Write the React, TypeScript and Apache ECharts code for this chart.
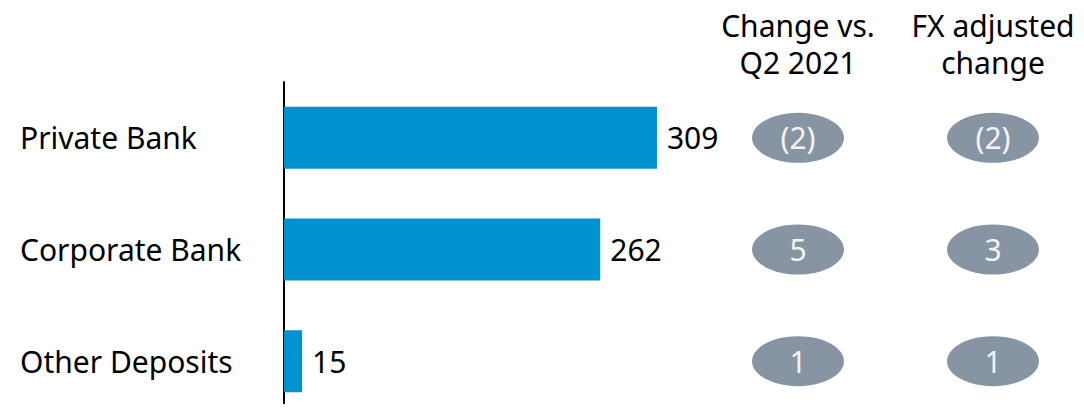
import React, { useEffect, useRef } from "react";
import * as echarts from "echarts";

const categories = ["Private Bank", "Corporate Bank", "Other Deposits"];
const deposits = [309, 262, 15];
const columnHeaders = ["Change vs.\nQ2 2021", "FX adjusted\nchange"];
const changeVsQ2 = ["(2)", "5", "1"];
const fxAdjustedChange = ["(2)", "3", "1"];

const FONT = "'Noto Sans', 'Liberation Sans', Arial, sans-serif";

export default function App() {
  const ref = useRef<HTMLDivElement>(null);
  useEffect(() => {
    if (!ref.current) return;
    const chart = echarts.init(ref.current, null, { renderer: "svg" });
    const bubbleData: any[] = [];
    categories.forEach((c, i) => {
      bubbleData.push({ value: [columnHeaders[0], c], label: { formatter: changeVsQ2[i] } });
      bubbleData.push({ value: [columnHeaders[1], c], label: { formatter: fxAdjustedChange[i] } });
    });
    chart.setOption({
      animation: false,
      textStyle: { fontFamily: FONT },
      grid: [
        { left: 284, top: 82, width: 603.5, height: 335, containLabel: false, outerBoundsMode: "none" },
        { left: 700.5, top: 82, width: 390, height: 335, containLabel: false, outerBoundsMode: "none" },
      ],
      xAxis: [
        { gridIndex: 0, type: "value", min: 0, max: 500, show: false },
        {
          gridIndex: 1,
          type: "category",
          position: "top",
          data: columnHeaders,
          axisLine: { show: false },
          axisTick: { show: false },
          splitLine: { show: false },
          axisLabel: {
            interval: 0,
            color: "#000",
            fontSize: 30,
            lineHeight: 37,
            margin: 1,
            fontFamily: FONT,
          },
        },
      ],
      yAxis: [
        {
          gridIndex: 0,
          type: "category",
          inverse: true,
          data: categories,
          axisLine: { show: true, lineStyle: { color: "#000", width: 2 } },
          axisTick: { show: false },
          splitLine: { show: false },
          axisLabel: {
            interval: 0,
            color: "#000",
            fontSize: 30,
            align: "left",
            margin: 264,
            fontFamily: FONT,
          },
        },
        {
          gridIndex: 1,
          type: "category",
          inverse: true,
          data: categories,
          show: false,
        },
      ],
      series: [
        {
          type: "bar",
          xAxisIndex: 0,
          yAxisIndex: 0,
          data: deposits,
          barWidth: 62,
          itemStyle: { color: "#0091d0" },
          label: {
            show: true,
            position: "right",
            distance: 10,
            color: "#000",
            fontSize: 30,
            fontFamily: FONT,
          },
        },
        {
          type: "scatter",
          xAxisIndex: 1,
          yAxisIndex: 1,
          data: bubbleData,
          symbol: "circle",
          symbolSize: [92, 50],
          itemStyle: { color: "#8794a1", opacity: 1 },
          label: {
            show: true,
            position: "inside",
            color: "#f2f4f6",
            fontSize: 30,
            fontFamily: FONT,
          },
        },
      ],
    });
    return () => chart.dispose();
  }, []);
  return <div ref={ref} style={{ width: 1084, height: 412, margin: -8 }} />;
}
